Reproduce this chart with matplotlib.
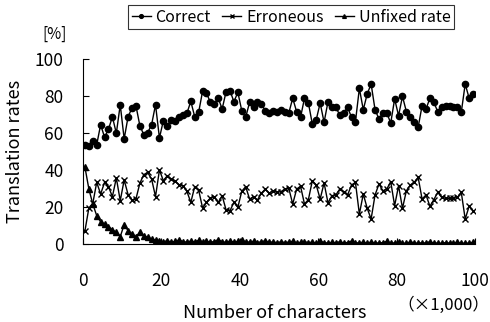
import numpy as np
import matplotlib
matplotlib.use('Agg')
import matplotlib.pyplot as plt

plt.rcParams['font.family'] = ['Noto Sans CJK JP', 'DejaVu Sans']

# Data (per 1,000 characters)
correct = [53.7, 53.2, 55.5, 53.7, 64.5, 57.7, 62.0, 68.8, 59.8, 75.3,
           56.8, 68.8, 73.5, 74.8, 64.0, 59.1, 60.2, 64.5, 75.3, 57.3,
           66.7, 64.0, 67.0, 66.7, 68.8, 69.9, 70.6, 77.1, 68.8, 71.2,
           82.5, 81.5, 76.6, 75.7, 78.8, 73.0, 82.3, 82.9, 76.9, 82.0,
           72.1, 68.5, 76.6, 73.9, 76.9, 75.7, 72.1, 70.8, 72.1, 71.2,
           72.4, 71.2, 70.8, 78.8, 71.5, 68.5, 78.8, 76.2, 64.9, 67.2,
           76.2, 65.8, 76.9, 73.9, 73.9, 69.7, 70.8, 73.9, 68.5, 66.1,
           84.1, 72.6, 81.1, 86.5, 72.6, 67.6, 70.8, 70.8, 65.4, 78.4,
           69.4, 79.8, 71.5, 68.5, 66.1, 63.1, 74.8, 73.0, 78.8, 76.6,
           71.5, 73.9, 74.4, 74.4, 73.9, 73.9, 71.2, 86.5, 78.8, 81.1]

erroneous = [7.2, 19.5, 22.0, 33.3, 27.0, 33.3, 31.0, 25.6, 35.7, 23.4,
             34.6, 26.7, 23.8, 24.3, 32.8, 37.5, 38.7, 35.1, 25.6, 40.0,
             34.2, 36.9, 35.1, 33.9, 32.1, 31.5, 28.5, 22.5, 31.0, 29.2,
             19.5, 22.5, 24.9, 25.6, 22.5, 26.1, 18.4, 18.0, 22.5, 19.8,
             28.5, 31.0, 24.3, 25.6, 23.8, 27.4, 29.7, 27.4, 28.8, 27.9,
             28.3, 29.7, 30.1, 21.6, 29.7, 31.2, 21.6, 24.0, 34.2, 31.9,
             24.3, 33.0, 22.2, 26.1, 26.5, 29.7, 28.3, 26.5, 31.9, 33.3,
             16.2, 27.0, 19.3, 13.5, 26.5, 32.4, 28.8, 29.7, 33.7, 20.7,
             31.5, 19.3, 28.8, 31.9, 33.3, 36.0, 24.3, 26.5, 20.4, 24.0,
             27.9, 25.2, 24.7, 24.7, 24.7, 25.2, 27.9, 13.5, 20.4, 18.0]

unfixed = [41.5, 29.7, 21.6, 15.3, 12.0, 10.8, 9.4, 7.6, 6.3, 4.0,
           10.4, 7.2, 5.4, 4.0, 6.3, 4.5, 3.6, 2.7, 2.2, 1.6,
           1.2, 1.8, 1.0, 1.4, 2.2, 1.3, 1.0, 1.6, 1.2, 2.0,
           1.1, 1.5, 1.0, 1.3, 2.4, 1.2, 0.9, 1.6, 1.1, 1.4,
           2.0, 1.2, 1.0, 1.5, 0.8, 1.2, 1.8, 0.9, 1.1, 0.7,
           1.2, 0.8, 1.0, 1.5, 0.6, 0.9, 1.3, 0.7, 1.0, 0.6,
           1.4, 0.8, 0.5, 0.9, 0.7, 1.2, 0.6, 0.8, 1.6, 0.5,
           0.7, 0.9, 0.4, 1.1, 0.6, 0.5, 0.8, 1.4, 0.4, 0.6,
           0.9, 0.5, 0.3, 1.2, 0.6, 0.4, 0.7, 0.5, 1.3, 0.4,
           0.6, 0.3, 0.8, 0.5, 0.4, 1.1, 0.3, 0.5, 0.4, 1.0]

x = np.arange(len(correct)) + 0.5
xticks = [0, 20, 40, 60, 80, 100]
yticks = [0, 20, 40, 60, 80, 100]

fig = plt.figure(figsize=(4.9, 3.22), dpi=100)
ax = fig.add_axes([83 / 490, 1 - 244 / 322, 392 / 490, 185 / 322])

ax.plot(x, correct, color='black', lw=1, marker='o', ms=4.5, label='Correct')
ax.plot(x, erroneous, color='black', lw=1, marker='x', ms=5, mew=1, label='Erroneous')
ax.plot(x, unfixed, color='black', lw=1, marker='^', ms=4.5, label='Unfixed rate')

ax.set_xlim(0, 100)
ax.set_ylim(0, 100)
ax.set_xticks(xticks)
ax.set_yticks(yticks)
ax.tick_params(direction='in', length=4, width=0.8, labelsize=12.5)
ax.tick_params(axis='x', pad=20)
ax.tick_params(axis='y', pad=14)
for s in ['top', 'right']:
    ax.spines[s].set_visible(False)
for s in ['left', 'bottom']:
    ax.spines[s].set_linewidth(0.8)

ax.set_ylabel('Translation rates', fontsize=13, labelpad=8)
fig.text(275 / 490, 1 - 313 / 322, 'Number of characters', ha='center', va='center', fontsize=13)
fig.text(489 / 490, 1 - 305 / 322, '（×1,000）', ha='right', va='center', fontsize=12)
fig.text(55 / 490, 1 - 34 / 322, '[%]', ha='center', va='center', fontsize=11)

leg = fig.legend(loc='center', bbox_to_anchor=(291 / 490, 1 - 17 / 322), ncol=3,
                 fontsize=11.5, frameon=True, fancybox=False, edgecolor='black',
                 handlelength=1.2, handletextpad=0.3, columnspacing=0.7,
                 borderpad=0.2, markerscale=0.6)
leg.get_frame().set_linewidth(0.8)

fig.savefig('out.png', dpi=100)
